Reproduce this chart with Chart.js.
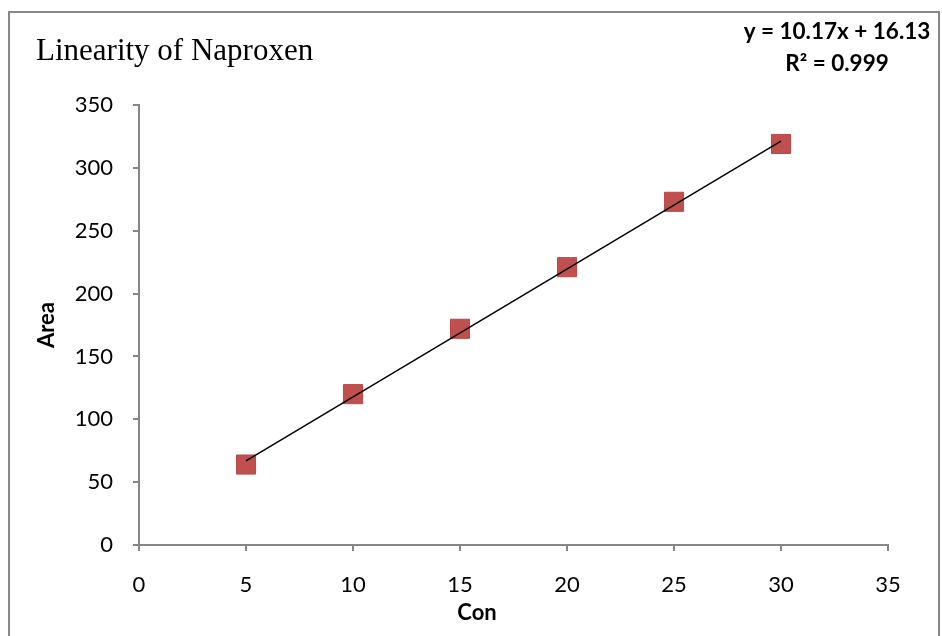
<!DOCTYPE html>
<html lang="en">
<head>
    <meta charset="UTF-8">
    <title>Linearity of Naproxen</title>
    <script src="https://cdn.jsdelivr.net/npm/chart.js"></script>
    <style>
        html, body { margin: 0; padding: 0; background: #fff; }
        #wrap { width: 942px; height: 636px; }
    </style>
</head>
<body>
    <div id="wrap"><canvas id="linChart" width="942" height="636"></canvas></div>
    <script>
        // concentration vs peak area
        const conc = [5, 10, 15, 20, 25, 30];
        const area = [64, 120, 172, 221, 273, 319];
        // fitted line ends
        const trendX = [5, 30];
        const trendY = [67, 321.2];
        const xTicks = [0, 5, 10, 15, 20, 25, 30, 35];
        const yTicks = [0, 50, 100, 150, 200, 250, 300, 350];
        const chartTitle = 'Linearity of Naproxen';
        const eqLines = ['y = 10.17x + 16.13', 'R² = 0.999'];
        const xTitle = 'Con';

        const axisGray = '#868686';

        const decor = {
            id: 'decor',
            beforeDraw(chart) {
                const c = chart.ctx;
                c.save();
                c.strokeStyle = '#888888';
                c.lineWidth = 2;
                c.strokeRect(9, 12, 930, 700);
                c.restore();
            },
            afterDraw(chart) {
                const c = chart.ctx;
                c.save();
                c.fillStyle = '#000';
                c.textBaseline = 'middle';
                c.font = '31px "Liberation Serif", serif';
                c.textAlign = 'left';
                c.fillText(chartTitle, 36, 52);
                c.font = 'bold 22.5px Lato, sans-serif';
                c.textAlign = 'center';
                c.fillText(eqLines[0], 837, 32);
                c.fillText(eqLines[1], 837, 64);
                // x axis title sits a bit left of the plot centre in the original
                c.font = 'bold 22px Lato, sans-serif';
                c.fillText(xTitle, 477, 613);
                c.restore();
            }
        };

        new Chart(document.getElementById('linChart'), {
            type: 'scatter',
            data: {
                datasets: [
                    {
                        type: 'line',
                        data: trendX.map((x, i) => ({ x: x, y: trendY[i] })),
                        borderColor: '#000',
                        borderWidth: 1.5,
                        pointRadius: 0,
                        fill: false
                    },
                    {
                        data: conc.map((x, i) => ({ x: x, y: area[i] })),
                        pointStyle: 'rect',
                        pointRadius: 13.5,
                        backgroundColor: '#C0504D',
                        borderColor: '#B9484A',
                        borderWidth: 1
                    }
                ]
            },
            options: {
                responsive: false,
                animation: false,
                layout: { padding: { left: 8, top: 105, right: 54, bottom: 0 } },
                plugins: {
                    legend: { display: false },
                    tooltip: { enabled: false }
                },
                scales: {
                    x: {
                        type: 'linear',
                        min: 0,
                        max: 35,
                        afterBuildTicks: s => { s.ticks = xTicks.map(v => ({ value: v })); },
                        afterFit: s => { s.height = 91; },
                        grid: { drawOnChartArea: false, drawTicks: true, tickLength: 6, color: axisGray, lineWidth: 2 },
                        border: { color: axisGray, width: 2 },
                        ticks: { color: '#000', font: { family: 'Lato', size: 22 }, padding: 21, maxRotation: 0 },
                        title: { display: false }
                    },
                    y: {
                        min: 0,
                        max: 350,
                        afterBuildTicks: s => { s.ticks = yTicks.map(v => ({ value: v })); },
                        afterFit: s => { s.width = 131; },
                        grid: { drawOnChartArea: false, drawTicks: true, tickLength: 6, color: axisGray, lineWidth: 2 },
                        border: { color: axisGray, width: 2 },
                        ticks: { color: '#000', font: { family: 'Lato', size: 22 }, padding: 20 },
                        title: { display: true, text: 'Area', color: '#000', font: { family: 'Lato', size: 22, weight: 'bold' }, padding: { top: 26, bottom: 0 } }
                    }
                }
            },
            plugins: [decor]
        });
    </script>
</body>
</html>
